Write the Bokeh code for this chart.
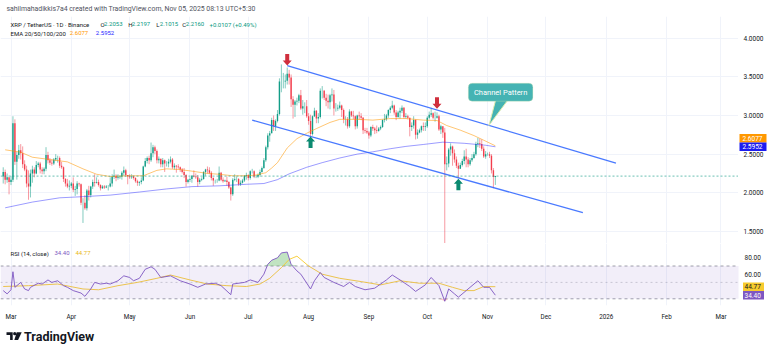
import numpy as np
import pandas as pd
from bokeh.plotting import figure
from bokeh.layouts import column, row
from bokeh.models import Range1d, FixedTicker, Label, BoxAnnotation, Span
from bokeh.core.properties import value
from bokeh.embed import file_html
from bokeh.resources import INLINE

# ---------------- data (XRP/USDT daily) ----------------
FIRST_DAY = "2025-02-25"
FIRST_OPEN = 2.21
close = [
    2.27, 2.17, 2.20, 2.14,
    # Mar
    2.17, 2.90, 2.40, 2.49, 2.55, 2.51, 2.37, 2.30, 2.12, 2.08, 2.25, 2.30, 2.25, 2.36, 2.38, 2.30,
    2.28, 2.31, 2.49, 2.42, 2.39, 2.38, 2.43, 2.45, 2.45, 2.35, 2.33, 2.18, 2.12, 2.08, 2.09,
    # Apr
    2.12, 2.04, 2.05, 2.12, 2.11, 1.87, 1.87, 1.80, 2.03, 1.97, 2.08, 2.14, 2.13, 2.14, 2.10, 2.06,
    2.08, 2.07, 2.08, 2.08, 2.12, 2.21, 2.22, 2.19, 2.20, 2.21, 2.26, 2.29, 2.23, 2.21,
    # May
    2.20, 2.21, 2.19, 2.15, 2.13, 2.14, 2.16, 2.34, 2.41, 2.45, 2.42, 2.51, 2.59, 2.54, 2.42, 2.44,
    2.37, 2.42, 2.38, 2.38, 2.40, 2.43, 2.33, 2.35, 2.34, 2.33, 2.30, 2.27, 2.23, 2.14, 2.17,
    # Jun
    2.18, 2.22, 2.21, 2.20, 2.14, 2.17, 2.18, 2.27, 2.30, 2.29, 2.26, 2.19, 2.16, 2.16, 2.16, 2.26,
    2.17, 2.15, 2.16, 2.14, 2.07, 1.98, 2.17, 2.18, 2.18, 2.11, 2.13, 2.16, 2.22, 2.23,
    # Jul
    2.19, 2.28, 2.28, 2.21, 2.21, 2.23, 2.27, 2.32, 2.42, 2.59, 2.74, 2.77, 2.94, 2.86, 2.93, 3.02,
    3.44, 3.44, 3.44, 3.45, 3.54, 3.49, 3.21, 3.14, 3.18, 3.19, 3.26, 3.09, 3.12, 3.12, 2.99,
    # Aug
    2.93, 2.76, 2.99, 3.06, 2.96, 2.98, 3.32, 3.32, 3.23, 3.19, 3.17, 3.26, 3.27, 3.09, 3.09, 3.10,
    3.13, 3.07, 2.95, 2.95, 2.86, 3.05, 3.00, 2.99, 2.86, 3.00, 2.99, 2.97, 2.81, 2.80, 2.78,
    # Sep
    2.74, 2.85, 2.83, 2.81, 2.80, 2.83, 2.85, 2.94, 2.95, 3.00, 3.07, 3.10, 3.13, 3.04, 2.98, 3.04,
    3.06, 3.10, 2.98, 2.99, 2.97, 2.85, 2.87, 2.94, 2.75, 2.78, 2.81, 2.86, 2.85, 2.86,
    # Oct
    2.97, 3.01, 3.03, 2.97, 2.97, 2.99, 2.82, 2.86, 2.78, 2.37, 2.38, 2.56, 2.60, 2.51, 2.43, 2.35,
    2.31, 2.36, 2.41, 2.47, 2.43, 2.37, 2.42, 2.45, 2.50, 2.63, 2.64, 2.63, 2.57, 2.47, 2.50,
    # Nov
    2.50, 2.48, 2.29, 2.2053, 2.2160,
]
high = [
    2.33, 2.30, 2.25, 2.20,
    2.22, 2.99, 2.95, 2.53, 2.62, 2.63, 2.60, 2.42, 2.35, 2.29, 2.30, 2.35, 2.33, 2.41, 2.40, 2.40,
    2.33, 2.33, 2.59, 2.53, 2.45, 2.43, 2.45, 2.50, 2.48, 2.47, 2.40, 2.34, 2.19, 2.18, 2.16,
    2.14, 2.20, 2.09, 2.15, 2.13, 2.12, 1.93, 1.97, 2.05, 2.09, 2.09, 2.17, 2.24, 2.20, 2.17, 2.11,
    2.10, 2.10, 2.10, 2.10, 2.20, 2.24, 2.30, 2.24, 2.24, 2.23, 2.28, 2.34, 2.31, 2.23,
    2.24, 2.24, 2.22, 2.20, 2.17, 2.15, 2.20, 2.35, 2.45, 2.47, 2.48, 2.65, 2.62, 2.61, 2.56, 2.47,
    2.44, 2.45, 2.43, 2.41, 2.44, 2.47, 2.45, 2.38, 2.36, 2.37, 2.34, 2.32, 2.32, 2.24, 2.18,
    2.20, 2.23, 2.29, 2.25, 2.23, 2.19, 2.20, 2.28, 2.31, 2.34, 2.33, 2.28, 2.20, 2.17, 2.18, 2.34,
    2.27, 2.20, 2.17, 2.21, 2.15, 2.08, 2.19, 2.24, 2.21, 2.19, 2.16, 2.18, 2.23, 2.26,
    2.24, 2.29, 2.31, 2.29, 2.23, 2.25, 2.30, 2.34, 2.45, 2.61, 2.77, 2.80, 2.97, 3.00, 2.95, 3.07,
    3.48, 3.66, 3.55, 3.53, 3.62, 3.59, 3.53, 3.25, 3.20, 3.23, 3.28, 3.33, 3.20, 3.17, 3.20,
    3.03, 3.01, 3.00, 3.10, 3.07, 3.03, 3.35, 3.38, 3.33, 3.28, 3.27, 3.28, 3.35, 3.33, 3.16, 3.14,
    3.18, 3.14, 3.09, 2.99, 2.98, 3.08, 3.06, 3.06, 3.00, 3.01, 3.05, 3.03, 2.98, 2.84, 2.84,
    2.80, 2.86, 2.88, 2.85, 2.87, 2.85, 2.87, 2.95, 3.02, 3.02, 3.08, 3.12, 3.19, 3.14, 3.07, 3.06,
    3.10, 3.13, 3.11, 3.03, 3.01, 2.97, 2.91, 2.99, 2.95, 2.82, 2.83, 2.87, 2.91, 2.91,
    2.99, 3.05, 3.10, 3.04, 3.05, 3.04, 3.01, 2.88, 2.86, 2.84, 2.47, 2.58, 2.64, 2.61, 2.56, 2.47,
    2.39, 2.39, 2.44, 2.55, 2.57, 2.46, 2.45, 2.50, 2.53, 2.66, 2.71, 2.70, 2.69, 2.60, 2.54,
    2.52, 2.53, 2.50, 2.32, 2.2197,
]
low = [
    2.12, 2.11, 2.13, 1.98,
    2.10, 2.14, 2.36, 2.17, 2.44, 2.43, 2.32, 2.28, 2.07, 1.91, 1.94, 2.13, 2.20, 2.24, 2.33, 2.25,
    2.24, 2.24, 2.28, 2.38, 2.36, 2.35, 2.36, 2.41, 2.39, 2.32, 2.31, 2.14, 2.08, 2.06, 2.03,
    2.06, 2.01, 1.96, 1.98, 2.08, 1.84, 1.61, 1.78, 1.77, 1.90, 1.94, 2.05, 2.08, 2.12, 2.08, 2.03,
    2.05, 2.05, 2.06, 2.03, 2.07, 2.08, 2.18, 2.15, 2.17, 2.18, 2.17, 2.22, 2.21, 2.11,
    2.18, 2.18, 2.17, 2.13, 2.09, 2.09, 2.11, 2.15, 2.33, 2.38, 2.37, 2.40, 2.46, 2.50, 2.38, 2.38,
    2.33, 2.33, 2.27, 2.34, 2.33, 2.38, 2.31, 2.30, 2.26, 2.31, 2.27, 2.25, 2.19, 2.08, 2.12,
    2.14, 2.13, 2.20, 2.18, 2.08, 2.11, 2.15, 2.17, 2.22, 2.25, 2.24, 2.16, 2.09, 2.12, 2.13, 2.15,
    2.15, 2.13, 2.14, 2.09, 2.05, 1.90, 1.96, 2.15, 2.14, 2.09, 2.09, 2.12, 2.14, 2.17,
    2.16, 2.17, 2.25, 2.19, 2.19, 2.19, 2.21, 2.26, 2.31, 2.40, 2.56, 2.66, 2.77, 2.80, 2.80, 2.91,
    3.00, 3.30, 3.35, 3.35, 3.40, 3.40, 3.11, 2.96, 2.98, 3.13, 3.16, 3.07, 3.01, 3.03, 2.97,
    2.88, 2.72, 2.74, 2.98, 2.90, 2.90, 2.96, 3.22, 3.20, 3.12, 3.09, 3.08, 3.18, 3.00, 3.05, 3.06,
    3.08, 2.98, 2.90, 2.87, 2.83, 2.84, 2.98, 2.95, 2.82, 2.83, 2.95, 2.94, 2.76, 2.77, 2.76,
    2.70, 2.72, 2.80, 2.76, 2.77, 2.79, 2.81, 2.84, 2.91, 2.93, 2.97, 3.03, 3.08, 3.01, 2.94, 2.97,
    2.96, 3.03, 2.96, 2.96, 2.95, 2.73, 2.80, 2.83, 2.69, 2.70, 2.77, 2.78, 2.80, 2.80,
    2.84, 2.95, 2.98, 2.95, 2.92, 2.96, 2.80, 2.76, 2.71, 1.25, 2.29, 2.33, 2.48, 2.35, 2.39, 2.32,
    2.19, 2.31, 2.34, 2.37, 2.33, 2.33, 2.35, 2.40, 2.44, 2.48, 2.59, 2.58, 2.54, 2.45, 2.44,
    2.48, 2.45, 2.25, 2.06, 2.1015,
]

ema50_dates = ["2025-02-26", "2025-03-06", "2025-03-12", "2025-03-21", "2025-03-30", "2025-04-07",
               "2025-04-14", "2025-04-21", "2025-04-30", "2025-05-08", "2025-05-15", "2025-05-20",
               "2025-05-27", "2025-06-02", "2025-06-10", "2025-06-16", "2025-06-23", "2025-06-30",
               "2025-07-05", "2025-07-10", "2025-07-13", "2025-07-16", "2025-07-21", "2025-07-26",
               "2025-07-31", "2025-08-05", "2025-08-12", "2025-08-17", "2025-08-26", "2025-09-03",
               "2025-09-12", "2025-09-20", "2025-09-29", "2025-10-06", "2025-10-11", "2025-10-18",
               "2025-10-25", "2025-10-30", "2025-11-05"]
ema50_vals = [2.556, 2.525, 2.46, 2.43, 2.40, 2.31, 2.24, 2.21, 2.22, 2.22, 2.29, 2.31,
              2.30, 2.28, 2.25, 2.24, 2.22, 2.22, 2.23, 2.26, 2.32, 2.39, 2.58, 2.70,
              2.77, 2.83, 2.91, 2.95, 2.95, 2.94, 2.96, 2.96, 2.94, 2.935, 2.87, 2.81,
              2.74, 2.68, 2.6077]
ema200_dates = ["2025-02-26", "2025-03-12", "2025-03-26", "2025-04-07", "2025-04-21", "2025-05-06",
                "2025-05-20", "2025-06-02", "2025-06-16", "2025-06-30", "2025-07-09", "2025-07-16",
                "2025-07-22", "2025-07-31", "2025-08-08", "2025-08-17", "2025-08-26", "2025-09-03",
                "2025-09-12", "2025-09-20", "2025-09-29", "2025-10-09", "2025-10-20", "2025-10-31",
                "2025-11-05"]
ema200_vals = [1.806, 1.88, 1.935, 1.95, 1.97, 2.01, 2.05, 2.08, 2.09, 2.11, 2.12, 2.17,
               2.245, 2.33, 2.39, 2.45, 2.50, 2.53, 2.57, 2.60, 2.625, 2.655, 2.64, 2.615, 2.5952]

rsi_dates = ["2025-02-25", "2025-02-27", "2025-03-01", "2025-03-02", "2025-03-03", "2025-03-06",
             "2025-03-08", "2025-03-10", "2025-03-11", "2025-03-15", "2025-03-17", "2025-03-20",
             "2025-03-22", "2025-03-25", "2025-03-28", "2025-03-30", "2025-04-02", "2025-04-06",
             "2025-04-08", "2025-04-11", "2025-04-13", "2025-04-16", "2025-04-19", "2025-04-21",
             "2025-04-25", "2025-04-28", "2025-05-01", "2025-05-03", "2025-05-06", "2025-05-09",
             "2025-05-12", "2025-05-14", "2025-05-17", "2025-05-22", "2025-05-27", "2025-06-01",
             "2025-06-05", "2025-06-09", "2025-06-14", "2025-06-17", "2025-06-22", "2025-06-23",
             "2025-06-29", "2025-07-02", "2025-07-06", "2025-07-09", "2025-07-11", "2025-07-13",
             "2025-07-16", "2025-07-18", "2025-07-21", "2025-07-23", "2025-07-26", "2025-07-28",
             "2025-08-02", "2025-08-04", "2025-08-07", "2025-08-09", "2025-08-14", "2025-08-19",
             "2025-08-22", "2025-08-25", "2025-08-30", "2025-09-04", "2025-09-10", "2025-09-13",
             "2025-09-17", "2025-09-22", "2025-09-25", "2025-09-30", "2025-10-03", "2025-10-07",
             "2025-10-10", "2025-10-12", "2025-10-15", "2025-10-17", "2025-10-21", "2025-10-27",
             "2025-10-30", "2025-11-02", "2025-11-05"]
rsi_vals = [40, 36, 41, 63, 44, 50, 42, 40, 44, 49, 48, 53, 50, 52, 46, 44, 40, 37,
            33, 42, 50, 48, 49, 48, 52, 58, 56, 52, 55, 66, 69, 66, 56, 58, 52, 48,
            44, 48, 49, 46, 35, 48, 50, 53, 50, 60, 72, 77, 80, 86, 87, 72, 64, 60,
            42, 52, 62, 56, 50, 45, 50, 45, 41, 43, 53, 59, 53, 45, 39, 47, 56, 46,
            27, 42, 36, 32, 40, 52, 44, 44, 34.40]
rsima_dates = ["2025-02-25", "2025-03-10", "2025-03-25", "2025-04-07", "2025-04-15", "2025-04-25",
               "2025-05-05", "2025-05-15", "2025-05-22", "2025-06-01", "2025-06-10", "2025-06-20",
               "2025-06-30", "2025-07-07", "2025-07-12", "2025-07-18", "2025-07-22", "2025-07-26",
               "2025-08-01", "2025-08-08", "2025-08-17", "2025-08-28", "2025-09-07", "2025-09-17",
               "2025-09-27", "2025-10-07", "2025-10-14", "2025-10-20", "2025-10-25", "2025-10-30",
               "2025-11-05"]
rsima_vals = [45, 46, 48, 42, 41, 46, 50, 55, 59, 53, 48, 46, 45, 48, 55, 68, 78, 82,
              70, 60, 55, 51, 47, 52, 49, 49, 44, 40, 40, 45, 44.77]

price_ticks = [1.5, 2.0, 2.5, 3.0, 3.5, 4.0]
rsi_ticks = [60, 80]
month_starts = pd.date_range("2025-03-01", "2026-03-01", freq="MS")
month_labels = ["Mar", "Apr", "May", "Jun", "Jul", "Aug", "Sep", "Oct", "Nov", "Dec", "2026", "Feb", "Mar"]

last_ohlc = ["2.2053", "2.2197", "2.1015", "2.2160"]
last_change = "+0.0107 (+0.49%)"
last_price = 2.2160
ema_last = [2.6077, 2.5952]
rsi_last = [34.40, 44.77]

# drawings on the chart (annotations)
channel_upper_dates, channel_upper_vals = ["2025-07-21", "2026-01-06"], [3.646, 2.3837]
channel_lower_dates, channel_lower_vals = ["2025-07-03", "2025-12-20"], [2.939, 1.7436]
arrow_dates = ["2025-07-21", "2025-10-06", "2025-08-02", "2025-10-17"]
arrow_prices = [3.646, 3.086, 2.728, 2.181]
arrow_down = [True, True, False, False]
callout_text = "Channel Pattern"

# ---------------- helpers ----------------
T0 = pd.Timestamp("2025-03-01")


def dx(dates):
    return ((pd.to_datetime(pd.Series(dates)) - T0) / pd.Timedelta(days=1)).to_numpy()


n = len(close)
dates = pd.date_range(FIRST_DAY, periods=n, freq="D")
xd = dx(dates)
c = np.array(close)
o = np.array([FIRST_OPEN] + close[:-1])
h = np.array(high)
l = np.array(low)
up = c >= o
GREEN, RED = "#089981", "#F23645"
col = np.where(up, GREEN, RED)

FONT = "Roboto"
TXT = "#131722"
GRID = "#f0f3fa"
W = 780
FRAME_W = 738
AX_W = W - FRAME_W
XR = Range1d(-5.4, 374.0)
PXD = FRAME_W / (XR.end - XR.start)
XR_FULL = Range1d(XR.start, XR.start + W / PXD)     # same scale, covering the price-scale strip
PR = Range1d(1.3443, 4.280)
P_H = 227
RR = Range1d(21.83, 97.44)
R_H = 62
T_H = 20
ORANGE, BLUE, PURPLE, YELLOW = "#FF9800", "#1c1cf0", "#7E57C2", "#F7CB2E"


def base(fig):
    fig.outline_line_color = None
    fig.background_fill_color = "white"
    fig.border_fill_color = "white"
    fig.grid.grid_line_color = GRID
    return fig


def lab(fig, px, py, text, color, frame_top, frame_h, size="6px"):
    fig.add_layout(Label(x=px, y=frame_h - (py - frame_top), x_units="screen", y_units="screen",
                         text=text, text_color=color, text_font=FONT, text_font_size=size,
                         text_align="left", text_baseline="middle"))


# ---------------- header ----------------
hdr = base(figure(width=W, height=16, x_range=Range1d(0, W), y_range=Range1d(16, 0),
                  x_axis_location=None, y_axis_location=None, output_backend="svg",
                  toolbar_location=None, min_border=0))
hdr.grid.visible = False
hdr.text(x=[6], y=[8.5], text=["sahilmahadikkis7a4 created with TradingView.com, Nov 05, 2025 08:13 UTC+5:30"],
         text_font=value(FONT), text_font_size="6.9px", text_baseline="middle", text_color="#50535e")

# ---------------- price pane ----------------
pp = base(figure(width=FRAME_W, height=P_H, x_range=XR, y_range=PR, x_axis_location=None,
                 y_axis_location=None, output_backend="svg", toolbar_location=None, min_border=0))
month_x = dx(month_starts)
pp.xgrid.ticker = FixedTicker(ticks=list(month_x))
pp.ygrid.ticker = FixedTicker(ticks=price_ticks)

pp.segment(x0=xd, y0=l, x1=xd, y1=h, line_color=col, line_alpha=0.5, line_width=1)
pp.vbar(x=xd, width=0.72, top=np.maximum(o, c), bottom=np.minimum(o, c),
        fill_color=col, line_color=None, fill_alpha=0.92)

pp.line(dx(ema50_dates), ema50_vals, line_color=ORANGE, line_alpha=0.55, line_width=1)
pp.line(dx(ema200_dates), ema200_vals, line_color="#2424ff", line_alpha=0.45, line_width=1)

pp.add_layout(Span(location=last_price, dimension="width", line_color=GREEN,
                   line_dash="2 2", line_width=1, line_alpha=0.6))

pp.line(dx(channel_upper_dates), channel_upper_vals, line_color="#2962FF", line_width=1.3, line_alpha=0.85)
pp.line(dx(channel_lower_dates), channel_lower_vals, line_color="#2962FF", line_width=1.3, line_alpha=0.85)

PXP = P_H / (PR.end - PR.start)
axs, ays, acol = [], [], []
for d, p, dn in zip(dx(arrow_dates), arrow_prices, arrow_down):
    s = 1 if dn else -1
    hw, sw, hh, tl = 4.5 / PXD, 2.0 / PXD, 5.0 / PXP, 11.5 / PXP
    axs.append([d, d - hw, d - sw, d - sw, d + sw, d + sw, d + hw])
    ays.append([p, p + s * hh, p + s * hh, p + s * tl, p + s * tl, p + s * hh, p + s * hh])
    acol.append("#d02f3d" if dn else "#0b8a70")
pp.patches(axs, ays, fill_color=acol, line_color=None)

# callout
cx0, cx1 = 235.1, 268.3
cy0, cy1 = 3.1847, 3.4175
pp.patch([249.1, 255.3, 245.7], [cy0 + 0.01, cy0 + 0.01, 2.871], fill_color="#45b3b3",
         line_color="#e3ecb0", line_width=1)
pp.add_layout(BoxAnnotation(left=cx0, right=cx1, bottom=cy0, top=cy1, fill_color="#45b3b3",
                            fill_alpha=1, line_color="#e3ecb0", line_width=1, border_radius=4))
pp.add_layout(Label(x=(cx0 + cx1) / 2, y=(cy0 + cy1) / 2, text=callout_text, text_color="white",
                    text_font=FONT, text_font_size="7.5px", text_align="center", text_baseline="middle"))

# legend
lab(pp, 10, 23.5, "XRP / TetherUS · 1D · Binance", TXT, 16, P_H)
for px, letter, val in zip([100, 127.7, 155.7, 181.7], ["O", "H", "L", "C"], last_ohlc):
    lab(pp, px, 23.5, letter, TXT, 16, P_H)
    lab(pp, px + 3.6, 23.5, val, GREEN, 16, P_H)
lab(pp, 209, 23.5, last_change, GREEN, 16, P_H)
lab(pp, 10, 32.7, "EMA 20/50/100/200", TXT, 16, P_H)
lab(pp, 69.3, 32.7, f"{ema_last[0]:.4f}", ORANGE, 16, P_H)
lab(pp, 95.3, 32.7, f"{ema_last[1]:.4f}", "#2424ff", 16, P_H)

# price scale (right)
pa = base(figure(width=AX_W, height=P_H, x_range=Range1d(0, AX_W), y_range=PR, x_axis_location=None,
                 y_axis_location=None, output_backend="svg", toolbar_location=None, min_border=0))
pa.grid.visible = False
pa.text(x=[5] * len(price_ticks), y=price_ticks, text=[f"{t:.4f}" for t in price_ticks],
        text_font=value(FONT), text_font_size="6.5px", text_baseline="middle", text_color=TXT)
badge_y = [ema_last[1] + 8.6 / PXP, ema_last[1]]
pa.rect(x=[14.5, 14.5], y=badge_y, width=27, height=8.4, height_units="screen",
        fill_color=[ORANGE, BLUE], line_color=None)
pa.text(x=[4, 4], y=badge_y, text=[f"{v:.4f}" for v in ema_last], text_font=value(FONT),
        text_font_size="6.5px", text_baseline="middle", text_color="white")

# ---------------- RSI pane (full width; right strip holds the RSI scale) ----------------
pr = base(figure(width=W, height=R_H + T_H, x_range=XR_FULL, y_range=RR, y_axis_location=None,
                 output_backend="svg", toolbar_location=None, min_border_left=0,
                 min_border_right=0, min_border_top=0, min_border_bottom=T_H))
pr.xgrid.ticker = FixedTicker(ticks=list(month_x))
pr.ygrid.visible = False
xa = pr.xaxis[0]
xa.ticker = FixedTicker(ticks=list(month_x))
xa.major_label_overrides = {float(k): v for k, v in zip(month_x, month_labels)}
xa.axis_line_color = None
xa.major_tick_line_color = None
xa.minor_tick_line_color = None
xa.major_label_text_font = FONT
xa.major_label_text_font_size = "6.3px"
xa.major_label_text_color = TXT
xa.major_label_standoff = 1

pr.add_layout(BoxAnnotation(left=XR.start, right=XR.end, bottom=30, top=70, fill_color=PURPLE,
                            fill_alpha=0.1, line_color=None))
for lvl, dash, alpha in [(70, "3 3", 0.7), (30, "3 3", 0.7), (50, "2 3", 0.35)]:
    pr.segment(x0=[XR.start], y0=[lvl], x1=[XR.end], y1=[lvl], line_color="#787B86",
               line_dash=dash, line_alpha=alpha, line_width=1)
rx = dx(rsi_dates)
rv = np.array(rsi_vals, dtype=float)
pr.varea(x=rx, y1=np.full_like(rv, 70), y2=np.maximum(rv, 70), fill_color="#4CAF50", fill_alpha=0.35)
pr.varea(x=rx, y1=np.minimum(rv, 30), y2=np.full_like(rv, 30), fill_color=RED, fill_alpha=0.25)
pr.line(dx(rsima_dates), rsima_vals, line_color=YELLOW, line_width=1, line_alpha=0.9)
pr.line(rx, rv, line_color=PURPLE, line_width=1, line_alpha=0.9)

lab(pr, 10, 252.7, "RSI (14, close)", TXT, 243, R_H)
lab(pr, 54, 252.7, f"{rsi_last[0]:.2f}", PURPLE, 243, R_H)
lab(pr, 75, 252.7, f"{rsi_last[1]:.2f}", "#E9B918", 243, R_H)

# RSI scale in the right strip
sx_lab = XR.end + 6 / PXD
for t in rsi_ticks:
    pr.add_layout(Label(x=sx_lab, y=t, text=f"{t:.2f}", text_color=TXT, text_font=FONT,
                        text_font_size="6.5px", text_baseline="middle", text_align="left"))
pr.rect(x=[XR.end + 15 / PXD] * 2, y=[rsi_last[1], rsi_last[0]], width=21, width_units="screen",
        height=8.4, height_units="screen", fill_color=[YELLOW, PURPLE], line_color=None)
pr.text(x=[sx_lab] * 2, y=[rsi_last[1], rsi_last[0]], text=[f"{v:.2f}" for v in (rsi_last[1], rsi_last[0])],
        text_font=value(FONT), text_font_size="6.5px", text_baseline="middle",
        text_color=[TXT, "white"])

# ---------------- logo ----------------
LG_H = 354 - 16 - P_H - R_H - T_H
lg = base(figure(width=W, height=LG_H, x_range=Range1d(0, W), y_range=Range1d(354, 354 - LG_H),
                 x_axis_location=None, y_axis_location=None, output_backend="svg",
                 toolbar_location=None, min_border=0))
lg.grid.visible = False
lg.patches([[6, 12.2, 12.2, 9.6, 9.6, 6], [16.2, 21.2, 17.6, 13.8]],
           [[331.8, 331.8, 339.6, 339.6, 334.4, 334.4], [331.8, 331.8, 339.6, 339.6]],
           fill_color=TXT, line_color=None)
lg.scatter(x=[14.2], y=[333.2], size=3.2, marker="circle", fill_color=TXT, line_color=None)
lg.text(x=[23.5], y=[336], text=["TradingView"], text_font=value("Roboto"), text_font_size="12.5px",
        text_font_style="bold", text_baseline="middle", text_color=TXT)

layout = column(hdr, row(pp, pa, spacing=0), pr, lg, spacing=0)
open("out.html", "w").write(file_html(layout, INLINE))
